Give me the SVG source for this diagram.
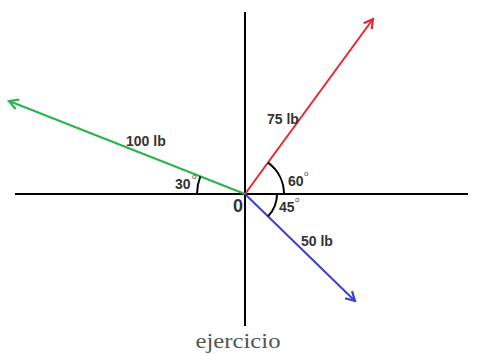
<svg xmlns="http://www.w3.org/2000/svg" width="482" height="354" viewBox="0 0 482 354">
<defs>
<style>
.axis{stroke:#000;stroke-width:2;fill:none}
.arc{stroke:#000;stroke-width:2;fill:none}
.lbl{font-family:"Liberation Sans",Arial,sans-serif;font-weight:bold;font-size:14px;fill:#333}
.deg{font-family:"Liberation Sans",Arial,sans-serif;font-size:8px;fill:#444}
</style>
<marker id="ag" viewBox="0 0 12 12" refX="10" refY="6" markerWidth="12" markerHeight="12" markerUnits="userSpaceOnUse" orient="auto"><path d="M1,1 L10,6 L1,11" fill="none" stroke="#2db34a" stroke-width="2.2"/></marker>
<marker id="ar" viewBox="0 0 12 12" refX="10" refY="6" markerWidth="12" markerHeight="12" markerUnits="userSpaceOnUse" orient="auto"><path d="M1,1 L10,6 L1,11" fill="none" stroke="#e8262e" stroke-width="2.2"/></marker>
<marker id="ab" viewBox="0 0 12 12" refX="10" refY="6" markerWidth="12" markerHeight="12" markerUnits="userSpaceOnUse" orient="auto"><path d="M1,1 L10,6 L1,11" fill="none" stroke="#3b3fd0" stroke-width="2.2"/></marker>
</defs>
<rect width="482" height="354" fill="#fff"/>
<g id="axes">
<line class="axis" x1="15" y1="194" x2="468" y2="194"/>
<line class="axis" x1="245" y1="12" x2="245" y2="326"/>
</g>
<g id="connectors">
<line x1="245" y1="194" x2="9" y2="101" stroke="#2db34a" stroke-width="2.2" marker-end="url(#ag)"/>
<line x1="245" y1="194" x2="373" y2="19" stroke="#e8262e" stroke-width="2" marker-end="url(#ar)"/>
<line x1="245" y1="194" x2="355" y2="301" stroke="#3b3fd0" stroke-width="2" marker-end="url(#ab)"/>
</g>
<g id="arcs">
<path class="arc" d="M197,194 A48,48 0 0 1 200.3,176.5"/>
<path class="arc" d="M284,194 A39,39 0 0 0 268,162.6"/>
<path class="arc" d="M277,194 A32,32 0 0 1 268,216.3"/>
</g>
<g id="labels">
<text class="lbl" x="126" y="146">100 lb</text>
<text class="lbl" x="267" y="124">75 lb</text>
<text class="lbl" x="301" y="246">50 lb</text>
<text class="lbl" x="175" y="189">30</text><text class="deg" x="192" y="179">o</text>
<text class="lbl" x="288" y="186">60</text><text class="deg" x="304" y="176">o</text>
<text class="lbl" x="279" y="212">45</text><text class="deg" x="295" y="202">o</text>
<text class="lbl" x="233" y="212" style="font-size:18px">0</text>
<text x="238" y="348" text-anchor="middle" font-family="'Liberation Serif','DejaVu Serif',serif" font-size="22" fill="#555" textLength="85" lengthAdjust="spacingAndGlyphs">ejercicio</text>
</g>
</svg>
